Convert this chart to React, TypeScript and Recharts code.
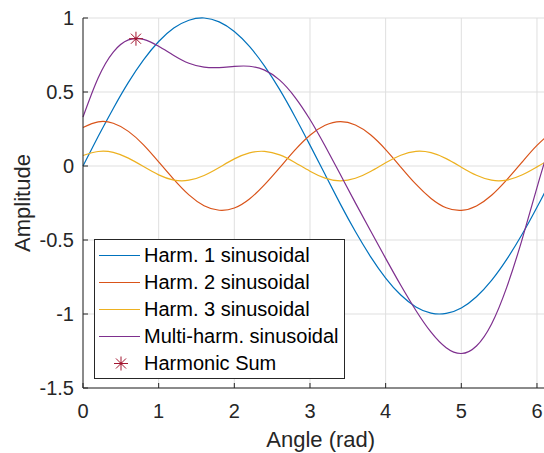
import React from 'react';
import { ComposedChart, Line, Scatter, XAxis, YAxis, CartesianGrid, Legend, Label } from 'recharts';

// angle samples (rad) and the values
const angle = [0, 0.2, 0.4, 0.6, 0.8, 1.0, 1.2, 1.4, 1.6, 1.8, 2.0, 2.2, 2.4, 2.6, 2.8, 3.0, 3.2, 3.4, 3.6, 3.8, 4.0, 4.2, 4.4, 4.6, 4.8, 5.0, 5.2, 5.4, 5.6, 5.8, 6.0, 6.2, 6.283];
const harm1 = [0, 0.199, 0.389, 0.565, 0.717, 0.841, 0.932, 0.985, 1.0, 0.974, 0.909, 0.808, 0.675, 0.516, 0.335, 0.141, -0.058, -0.256, -0.443, -0.612, -0.757, -0.872, -0.952, -0.994, -0.996, -0.959, -0.883, -0.773, -0.631, -0.465, -0.279, -0.083, -0.003];
const harm2 = [0.26, 0.298, 0.289, 0.234, 0.143, 0.028, -0.09, -0.195, -0.268, -0.299, -0.284, -0.223, -0.126, -0.011, 0.107, 0.208, 0.275, 0.3, 0.277, 0.211, 0.111, -0.007, -0.123, -0.219, -0.282, -0.3, -0.27, -0.198, -0.094, 0.024, 0.139, 0.231, 0.259];
const harm3 = [0.071, 0.098, 0.092, 0.053, -0.004, -0.06, -0.095, -0.096, -0.064, -0.01, 0.048, 0.089, 0.099, 0.075, 0.024, -0.035, -0.082, -0.1, -0.083, -0.037, 0.022, 0.073, 0.099, 0.09, 0.05, -0.008, -0.063, -0.096, -0.095, -0.061, -0.006, 0.051, 0.07];
const multi = [0.331, 0.595, 0.77, 0.852, 0.856, 0.809, 0.747, 0.694, 0.668, 0.665, 0.673, 0.674, 0.648, 0.58, 0.466, 0.314, 0.135, -0.056, -0.249, -0.438, -0.624, -0.806, -0.976, -1.123, -1.228, -1.267, -1.216, -1.067, -0.82, -0.502, -0.146, 0.199, 0.326];

const peakAngle = [0.7];
const peakValue = [0.86];

const xTicks = [0, 1, 2, 3, 4, 5, 6];
const yTicks = [-1.5, -1, -0.5, 0, 0.5, 1];

const seriesKeys = ['h1', 'h2', 'h3', 'multi'];
const seriesNames = ['Harm. 1 sinusoidal', 'Harm. 2 sinusoidal', 'Harm. 3 sinusoidal', 'Multi-harm. sinusoidal'];
const seriesColors = ['#0072BD', '#D95319', '#EDB120', '#7E2F8E'];
const markerName = 'Harmonic Sum';
const markerColor = '#A2142F';

const data = angle.map((a, i) => ({ angle: a, h1: harm1[i], h2: harm2[i], h3: harm3[i], multi: multi[i] }));
const peak = peakAngle.map((a, i) => ({ angle: a, value: peakValue[i] }));

const FONT = '"Liberation Sans", Arial, Helvetica, sans-serif';
const AXIS = '#262626';

function Asterisk({ cx, cy, color, r = 7 }: { cx: number; cy: number; color: string; r?: number }) {
  const d = r * 0.72;
  return (
    <g stroke={color} strokeWidth={1} fill={color}>
      <line x1={cx - r} y1={cy} x2={cx + r} y2={cy} />
      <line x1={cx} y1={cy - r} x2={cx} y2={cy + r} />
      <line x1={cx - d} y1={cy - d} x2={cx + d} y2={cy + d} />
      <line x1={cx - d} y1={cy + d} x2={cx + d} y2={cy - d} />
      <circle cx={cx} cy={cy} r={1.3} stroke="none" />
    </g>
  );
}

function LegendBox() {
  const row = { display: 'flex', alignItems: 'center', height: 27 } as const;
  return (
    <div
      style={{
        border: `1px solid ${AXIS}`,
        background: '#fff',
        width: 249,
        height: 136,
        paddingTop: 2,
        boxSizing: 'content-box',
        fontFamily: FONT,
        fontSize: 20,
        color: '#000',
      }}
    >
      {seriesNames.map((n, i) => (
        <div key={n} style={row}>
          <div style={{ width: 41, height: 0, borderTop: `1px solid ${seriesColors[i]}`, marginLeft: 4, marginRight: 4 }} />
          <span style={{ whiteSpace: 'nowrap' }}>{n}</span>
        </div>
      ))}
      <div style={row}>
        <svg width={41} height={27} style={{ marginLeft: 4, marginRight: 4 }}>
          <Asterisk cx={22} cy={13.5} color={markerColor} />
        </svg>
        <span style={{ whiteSpace: 'nowrap' }}>{markerName}</span>
      </div>
    </div>
  );
}

export default function App() {
  return (
    <div style={{ position: 'absolute', left: 0, top: 0, width: 544, height: 453, overflow: 'hidden', background: '#fff' }}>
      <ComposedChart
        width={600}
        height={453}
        data={data}
        margin={{ top: 18, right: 41.6, bottom: 0, left: 0 }}
        style={{ fontFamily: FONT }}
      >
        <CartesianGrid stroke="#dfdfdf" strokeWidth={1} />
        <XAxis
          dataKey="angle"
          type="number"
          domain={[0, 6.2832]}
          ticks={xTicks}
          height={65}
          stroke={AXIS}
          tickSize={-5}
          tickMargin={21}
          tick={{ fill: AXIS, fontSize: 20 }}
        >
          <Label
            content={({ viewBox }: any) => (
              <text
                x={viewBox.x + viewBox.width / 2}
                y={viewBox.y + 51}
                textAnchor="middle"
                dominantBaseline="central"
                fill={AXIS}
                fontSize={22}
                fontFamily={FONT}
              >
                Angle (rad)
              </text>
            )}
          />
        </XAxis>
        <XAxis
          xAxisId="top"
          orientation="top"
          dataKey="angle"
          type="number"
          domain={[0, 6.2832]}
          ticks={xTicks}
          height={0}
          stroke={AXIS}
          tickSize={-5}
          tick={() => <g />}
        />
        <YAxis
          type="number"
          domain={[-1.5, 1]}
          ticks={yTicks}
          width={83}
          stroke={AXIS}
          tickSize={-5}
          tickMargin={14}
          tick={{ fill: AXIS, fontSize: 20 }}
        >
          <Label
            content={({ viewBox }: any) => {
              const cx = 22;
              const cy = viewBox.y + viewBox.height / 2;
              return (
                <text
                  x={cx}
                  y={cy}
                  transform={`rotate(-90 ${cx} ${cy})`}
                  textAnchor="middle"
                  dominantBaseline="central"
                  fill={AXIS}
                  fontSize={22}
                  fontFamily={FONT}
                >
                  Amplitude
                </text>
              );
            }}
          />
        </YAxis>
        {seriesKeys.map((k, i) => (
          <Line
            key={k}
            dataKey={k}
            name={seriesNames[i]}
            type="natural"
            stroke={seriesColors[i]}
            strokeWidth={1.2}
            dot={false}
            activeDot={false}
            isAnimationActive={false}
          />
        ))}
        <Scatter
          data={peak}
          dataKey="value"
          name={markerName}
          isAnimationActive={false}
          shape={(p: any) => <Asterisk cx={p.cx} cy={p.cy} color={markerColor} />}
        />
        <Legend
          layout="vertical"
          align="center"
          verticalAlign="middle"
          wrapperStyle={{ left: 94, top: 239, width: 'auto', height: 'auto' }}
          content={() => <LegendBox />}
        />
      </ComposedChart>
    </div>
  );
}
